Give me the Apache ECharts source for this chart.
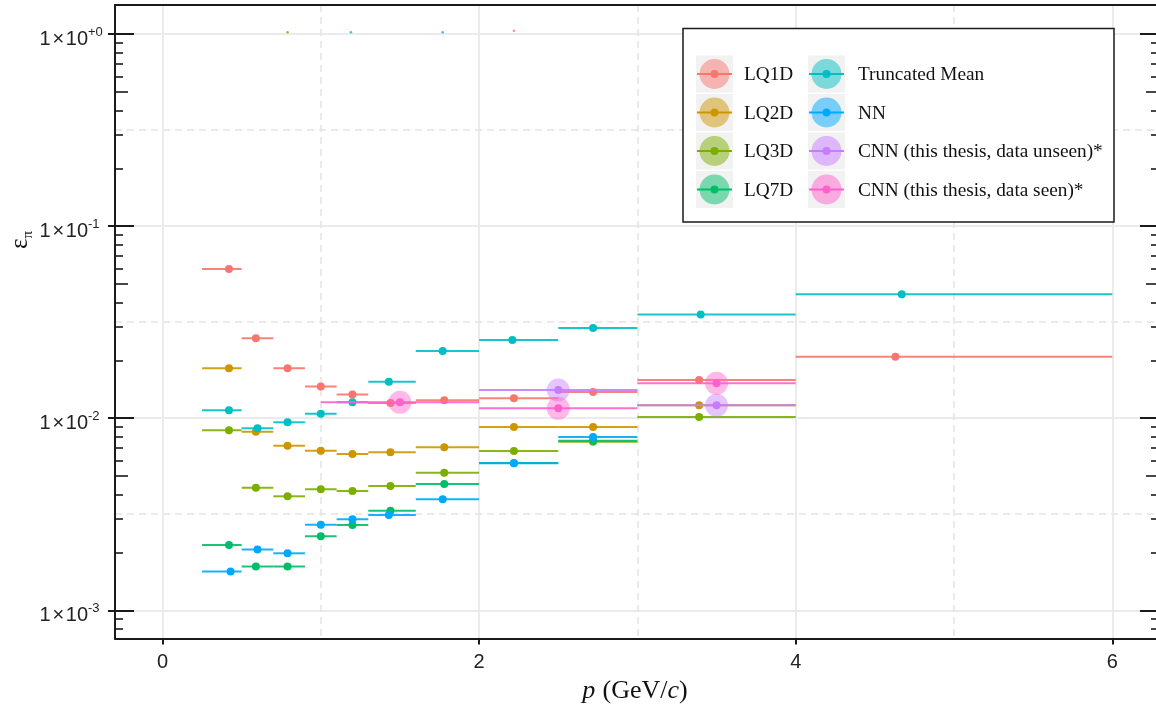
<!DOCTYPE html>
<html>
<head>
<meta charset="utf-8">
<script src="https://cdn.jsdelivr.net/npm/echarts@6/dist/echarts.min.js"></script>
<style>
  html, body { margin: 0; padding: 0; background: #fff; }
  #chart { width: 1156px; height: 706px; }
</style>
</head>
<body>
<div id="chart"></div>
<script>
// Pion efficiency vs momentum for several PID methods (log scale)

// momentum bins (GeV/c)
const binLo = [0.25, 0.5, 0.7, 0.9, 1.1, 1.3, 1.6, 2.0, 2.5, 3.0, 4.0];
const binHi = [0.5, 0.7, 0.9, 1.1, 1.3, 1.6, 2.0, 2.5, 3.0, 4.0, 6.0];

// mean momentum inside each bin
const pLQ = [0.42, 0.59, 0.79, 1.00, 1.20, 1.44, 1.78, 2.22, 2.72, 3.39, 4.63];
const pTM = [0.42, 0.60, 0.79, 1.00, 1.20, 1.43, 1.77, 2.21, 2.72, 3.40, 4.67];
const pNN = [0.43, 0.60, 0.79, 1.00, 1.20, 1.43, 1.77, 2.22, 2.72, 3.40, 4.67];

// pion efficiencies
const effLQ1D = [0.0598, 0.0261, 0.0182, 0.0146, 0.0133, 0.0120, 0.0124, 0.0127, 0.0137, 0.0158, 0.0209];
const effLQ2D = [0.0182, 0.00851, 0.00719, 0.00677, 0.00651, 0.00664, 0.00705, 0.00900, 0.00900, 0.01167, null];
const effLQ3D = [0.00865, 0.00435, 0.00392, 0.00427, 0.00418, 0.00444, 0.00520, 0.00675, 0.00755, 0.01014, null];
const effLQ7D = [0.00219, 0.00169, 0.00169, 0.00243, 0.00278, 0.00330, 0.00454, 0.00585, 0.00762, null, null];
const effTM   = [0.0110, 0.00886, 0.00952, 0.01055, 0.0121, 0.0155, 0.0224, 0.0255, 0.0295, 0.0347, 0.0442];
const effNN   = [0.00159, 0.00207, 0.00198, 0.00279, 0.00298, 0.00313, 0.00378, 0.00583, 0.00798, null, null];

// CNN results in wide bins
const cnnLo = [1.0, 2.0, 3.0];
const cnnHi = [2.0, 3.0, 4.0];
const cnnP  = [1.5, 2.5, 3.5];
const effCNNunseen = [null, 0.0140, 0.01167];
const effCNNseen   = [0.0121, 0.01126, 0.0152];

// stray points sitting at efficiency ~1
const edgeSeries = ['LQ3D', 'Truncated Mean', 'NN', 'LQ1D'];
const edgeP      = [0.79, 1.19, 1.77, 2.22];
const edgeEff    = [1.02, 1.02, 1.02, 1.04];

// axis ticks
const xMajor = [0, 2, 4, 6];
const xMinor = [1, 3, 5];
const yDecades = [0.001, 0.01, 0.1, 1];
const yHalf = [0.00316228, 0.0316228, 0.316228];

const names = ['LQ1D', 'LQ2D', 'LQ3D', 'LQ7D', 'Truncated Mean', 'NN',
  'CNN (this thesis, data unseen)*', 'CNN (this thesis, data seen)*'];
const palette = ['#F8766D', '#CD9600', '#7CAE00', '#00BE67', '#00BFC4', '#00A9FF', '#C77CFF', '#FF61CC'];

const X_MIN = -0.3, X_MAX = 6.295;
const Y_MIN = 7.13e-4, Y_MAX = 1.416;

const yFives = [0.005, 0.05, 0.5];
const yMinors = [];
for (let n = -4; n <= 0; n++) {
  [2, 3, 4, 6, 7, 8, 9].forEach(k => {
    const v = Number((k * Math.pow(10, n)).toPrecision(3));
    if (v > Y_MIN && v < Y_MAX) yMinors.push(v);
  });
}

function rows(p, eff, lo, hi) {
  const out = [];
  eff.forEach((v, i) => { if (v != null) out.push([p[i], v, lo[i], hi[i]]); });
  return out;
}

const seriesDefs = [
  { name: names[0], data: rows(pLQ, effLQ1D, binLo, binHi), big: false },
  { name: names[1], data: rows(pLQ, effLQ2D, binLo, binHi), big: false },
  { name: names[2], data: rows(pLQ, effLQ3D, binLo, binHi), big: false },
  { name: names[3], data: rows(pLQ, effLQ7D, binLo, binHi), big: false },
  { name: names[4], data: rows(pTM, effTM, binLo, binHi), big: false },
  { name: names[5], data: rows(pNN, effNN, binLo, binHi), big: false },
  { name: names[6], data: rows(cnnP, effCNNunseen, cnnLo, cnnHi), big: true },
  { name: names[7], data: rows(cnnP, effCNNseen, cnnLo, cnnHi), big: true }
];

function makeRender(color, big) {
  return function (params, api) {
    const x = api.value(0), y = api.value(1), lo = api.value(2), hi = api.value(3);
    const a = api.coord([lo, y]), b = api.coord([hi, y]), c = api.coord([x, y]);
    const children = [{
      type: 'line',
      shape: { x1: a[0], y1: a[1], x2: b[0], y2: b[1] },
      style: { stroke: color, lineWidth: 2, opacity: 0.9 }
    }];
    if (big) {
      children.push({ type: 'circle', shape: { cx: c[0], cy: c[1], r: 11.5 }, style: { fill: color, opacity: 0.45 } });
    }
    children.push({ type: 'circle', shape: { cx: c[0], cy: c[1], r: 4 }, style: { fill: color } });
    return { type: 'group', children: children };
  };
}

const series = seriesDefs.map((d, i) => ({
  type: 'custom',
  name: d.name,
  xAxisIndex: 0,
  yAxisIndex: 0,
  silent: true,
  encode: { x: 0, y: 1 },
  data: d.data,
  renderItem: makeRender(palette[i], d.big),
  z: 10 + i
}));

series.push({
  type: 'scatter',
  name: 'edge',
  xAxisIndex: 0,
  yAxisIndex: 0,
  silent: true,
  symbolSize: 2.5,
  data: edgeP.map((p, i) => ({
    value: [p, edgeEff[i]],
    itemStyle: { color: palette[names.indexOf(edgeSeries[i])] }
  })),
  z: 30
});

const AXIS_COL = '#1a1a1a';
const GRID_COL = '#EBEBEB';
const LABEL_COL = '#222';
const FONT_SANS = 'Liberation Sans, Arial, sans-serif';
const FONT_SERIF = 'Liberation Serif, Times New Roman, serif';

function yAxisBase(pos) {
  return {
    type: 'log', logBase: 10, min: Y_MIN, max: Y_MAX, position: pos, offset: 0,
    axisLine: { show: false, onZero: false }, axisLabel: { show: false },
    axisTick: { show: false }, splitLine: { show: false }
  };
}

function tickAxis(pos, values, len, width) {
  const ax = yAxisBase(pos);
  ax.axisTick = { show: true, inside: true, length: len, customValues: values,
    lineStyle: { color: AXIS_COL, width: width } };
  return ax;
}

const supMap = { '0': '+0', '-1': '-1', '-2': '-2', '-3': '-3' };

// main left axis: line, outer tick stubs, "1×10" part of the labels, solid grid
const yMain = yAxisBase('left');
yMain.axisLine = { show: true, onZero: false, lineStyle: { color: AXIS_COL, width: 2 } };
yMain.axisTick = { show: true, inside: false, length: 7, customValues: yDecades,
  lineStyle: { color: AXIS_COL, width: 2 } };
yMain.splitLine = { show: true, lineStyle: { color: GRID_COL, width: 2 } };
yMain.axisLabel = {
  show: true, customValues: yDecades, margin: 27,
  fontSize: 20, fontFamily: FONT_SANS, color: LABEL_COL,
  lineHeight: 10, verticalAlign: 'top', align: 'right',
  formatter: function () { return '1\u200a×\u200a10'; }
};

// exponent part of the labels, raised as a superscript
const yExp = yAxisBase('left');
yExp.axisLabel = {
  show: true, customValues: yDecades, margin: 27,
  fontSize: 13, fontFamily: FONT_SANS, color: LABEL_COL,
  lineHeight: 3, verticalAlign: 'bottom', align: 'left',
  formatter: function (v) {
    const e = String(Math.round(Math.log10(v)));
    return supMap[e] || e;
  }
};

const yHalfAxis = yAxisBase('left');
yHalfAxis.axisTick = { show: false, customValues: yHalf };
yHalfAxis.splitLine = { show: true, lineStyle: { color: '#E3E3E3', width: 1.5, type: [7, 5] } };

const yAxes = [
  yMain,
  yExp,
  tickAxis('left', yDecades, 19, 2),
  tickAxis('left', yFives, 13, 1.6),
  tickAxis('left', yMinors, 8, 1.6),
  yHalfAxis,
  tickAxis('right', yDecades, 19, 2),
  tickAxis('right', yFives, 13, 1.6),
  tickAxis('right', yMinors, 8, 1.6)
];

const xAxes = [
  {
    type: 'value', min: X_MIN, max: X_MAX, position: 'bottom',
    axisLine: { show: true, onZero: false, lineStyle: { color: AXIS_COL, width: 2 } },
    axisTick: { show: true, length: 6, customValues: xMajor, lineStyle: { color: AXIS_COL, width: 2 } },
    axisLabel: { show: true, customValues: xMajor, margin: 14, fontSize: 20, fontFamily: FONT_SANS, color: LABEL_COL },
    splitLine: { show: true, lineStyle: { color: GRID_COL, width: 2 } }
  },
  {
    type: 'value', min: X_MIN, max: X_MAX, position: 'bottom',
    axisLine: { show: false, onZero: false }, axisLabel: { show: false },
    axisTick: { show: false, customValues: xMinor },
    splitLine: { show: true, lineStyle: { color: '#E3E3E3', width: 1.5, type: [7, 5] } }
  },
  {
    type: 'value', min: X_MIN, max: X_MAX, position: 'top',
    axisLine: { show: true, onZero: false, lineStyle: { color: AXIS_COL, width: 2 } },
    axisLabel: { show: false }, axisTick: { show: false }, splitLine: { show: false }
  }
];

// legend drawn as graphic elements: 2 columns x 4 rows
const legendEls = [{
  type: 'rect', shape: { x: 683, y: 28.5, width: 431, height: 193.5 },
  style: { fill: '#fff', stroke: AXIS_COL, lineWidth: 1.5 }, z: 100
}];
names.forEach((nm, i) => {
  const col = i < 4 ? 0 : 1, row = i % 4;
  const kx = col ? 808 : 696, ky = 55.5 + row * 38.5;
  const cx = kx + 18.5, cy = ky + 18.5;
  const c = palette[i];
  legendEls.push(
    { type: 'rect', shape: { x: kx, y: ky, width: 37, height: 37 }, style: { fill: '#F2F2F2' }, z: 101 },
    { type: 'circle', shape: { cx: cx, cy: cy, r: 15 }, style: { fill: c, opacity: 0.5 }, z: 102 },
    { type: 'line', shape: { x1: kx + 1, y1: cy, x2: kx + 36, y2: cy }, style: { stroke: c, lineWidth: 2 }, z: 103 },
    { type: 'circle', shape: { cx: cx, cy: cy, r: 4 }, style: { fill: c }, z: 104 },
    { type: 'text', x: col ? 858 : 744, y: cy + 1, z: 104,
      style: { text: nm, fontSize: 19.3, fontFamily: FONT_SERIF, fill: '#111', verticalAlign: 'middle', align: 'left' } }
  );
});

const titleEls = [
  {
    type: 'text', x: 635, y: 691, z: 100,
    style: {
      text: '{ip|p} {r|(GeV/}{i|c}{r|)}',
      align: 'center', verticalAlign: 'middle',
      rich: {
        ip: { fontSize: 26, fontFamily: FONT_SERIF, fontStyle: 'italic', fill: '#111', padding: [0, 4, 0, 0] },
        i: { fontSize: 26, fontFamily: FONT_SERIF, fontStyle: 'italic', fill: '#111' },
        r: { fontSize: 26, fontFamily: FONT_SERIF, fill: '#111' }
      }
    }
  },
  {
    type: 'text', x: 20, y: 240, rotation: Math.PI / 2, z: 100,
    style: {
      text: '{e|ε}{p|π}',
      align: 'center', verticalAlign: 'middle',
      rich: {
        e: { fontSize: 25, fontFamily: FONT_SERIF, fill: '#111', lineHeight: 25, verticalAlign: 'top' },
        p: { fontSize: 15, fontFamily: FONT_SERIF, fill: '#111', lineHeight: 15, padding: [13, 0, 0, 0], verticalAlign: 'top' }
      }
    }
  }
];

const chart = echarts.init(document.getElementById('chart'), null, { renderer: 'canvas' });
chart.setOption({
  animation: false,
  backgroundColor: '#fff',
  grid: { left: 115, right: -3, top: 5, bottom: 67.5, containLabel: false, outerBoundsMode: 'none' },
  xAxis: xAxes,
  yAxis: yAxes,
  series: series,
  graphic: { elements: legendEls.concat(titleEls) }
});
</script>
</body>
</html>
